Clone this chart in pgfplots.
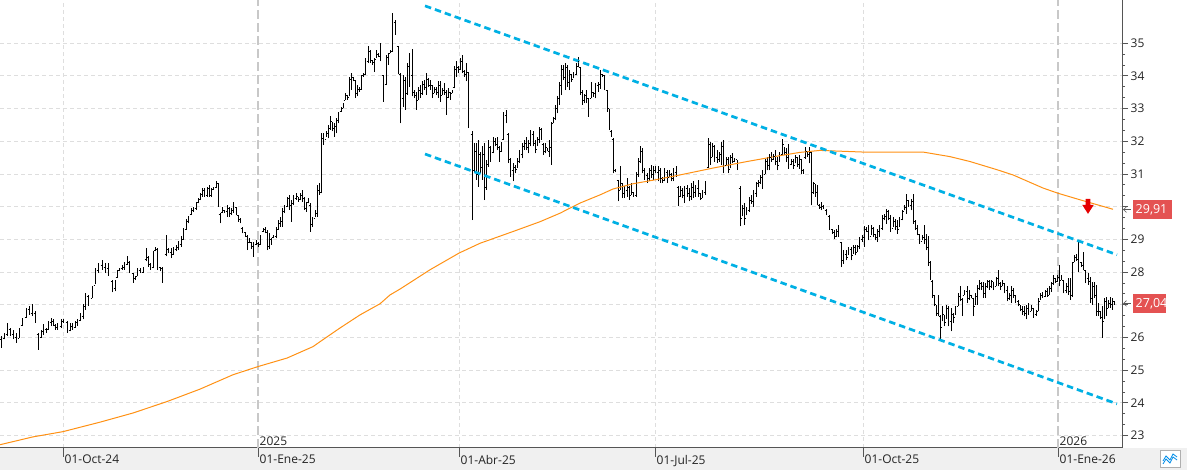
\documentclass[border=0pt]{standalone}
\usepackage{fontspec}
\setmainfont{Open Sans}
\usepackage{pgfplots}
\usepackage{pgfplotstable}
\pgfplotsset{compat=1.18}
\definecolor{gridc}{RGB}{222,222,222}
\definecolor{jangrid}{RGB}{200,200,200}
\definecolor{cyanl}{RGB}{0,176,228}
\definecolor{maorange}{RGB}{255,145,20}
\definecolor{boxred}{RGB}{228,82,82}
\definecolor{strip}{RGB}{240,240,240}
\definecolor{axisc}{RGB}{85,85,85}
\definecolor{txt}{RGB}{35,35,35}
\pgfdeclareplotmark{ohlcL}{\pgfpathmoveto{\pgfqpoint{-1.3pt}{0pt}}\pgfpathlineto{\pgfqpoint{0pt}{0pt}}\pgfusepathqstroke}
\pgfdeclareplotmark{ohlcR}{\pgfpathmoveto{\pgfqpoint{0pt}{0pt}}\pgfpathlineto{\pgfqpoint{1.3pt}{0pt}}\pgfusepathqstroke}
\pgfdeclareplotmark{redarrow}{%
 \pgfpathmoveto{\pgfqpoint{-2.3pt}{7.5pt}}\pgfpathlineto{\pgfqpoint{2.3pt}{7.5pt}}%
 \pgfpathlineto{\pgfqpoint{2.3pt}{1.5pt}}\pgfpathlineto{\pgfqpoint{5.8pt}{1.5pt}}%
 \pgfpathlineto{\pgfqpoint{0pt}{-7.5pt}}\pgfpathlineto{\pgfqpoint{-5.8pt}{1.5pt}}%
 \pgfpathlineto{\pgfqpoint{-2.3pt}{1.5pt}}\pgfpathclose\pgfusepathqfill}
\pgfplotstableread{
x h l o c
1 26.04 25.68 25.95 25.78
4 26.14 25.94 25.96 26.10
7 26.43 26.04 26.10 26.35
10 26.29 26.04 26.25 26.08
13 26.24 25.94 26.10 26.00
16 26.14 25.84 26.00 25.90
19 26.29 25.99 25.98 26.25
22 26.60 26.35 26.38 26.55
26 26.90 26.60 26.62 26.85
29 26.96 26.70 26.85 26.76
32 27.03 26.65 26.75 26.95
35 26.80 26.45 26.75 26.50
38 26.14 25.63 26.10 25.90
41 26.24 25.99 26.00 26.20
43 26.40 26.09 26.20 26.32
46 26.29 26.14 26.25 26.20
48 26.50 26.24 26.26 26.45
51 26.60 26.35 26.45 26.50
53 26.55 26.35 26.50 26.40
55 26.40 26.24 26.38 26.30
57 26.45 26.24 26.30 26.40
61 26.55 26.29 26.35 26.50
63 26.55 26.45 26.50 26.48
67 26.50 26.14 26.45 26.20
70 26.45 26.19 26.22 26.38
72 26.45 26.24 26.35 26.30
75 26.50 26.29 26.30 26.45
77 26.55 26.35 26.45 26.50
80 26.75 26.50 26.52 26.70
83 27.01 26.55 26.65 26.95
85 27.36 26.85 26.95 27.25
88 27.31 26.96 27.25 27.05
92 27.57 27.21 27.20 27.50
95 28.12 27.62 27.60 28.00
98 28.28 27.97 28.05 28.20
102 28.36 28.07 28.20 28.15
105 28.28 27.97 28.15 28.05
108 28.28 27.89 28.10 27.95
112 27.77 27.38 27.70 27.50
115 27.77 27.41 27.50 27.70
117 28.07 27.82 27.85 28.00
119 28.12 28.02 28.04 28.08
122 28.23 28.07 28.10 28.18
124 28.30 28.07 28.15 28.25
127 28.48 28.23 28.25 28.40
129 28.33 27.97 28.30 28.00
133 27.97 27.67 27.95 27.75
135 27.87 27.77 27.80 27.85
137 28.12 27.87 27.88 28.05
140 28.12 27.97 28.05 28.02
143 28.17 27.97 28.00 28.12
146 28.73 28.33 28.40 28.65
148 28.48 28.17 28.45 28.25
150 28.28 28.07 28.25 28.15
153 28.63 28.12 28.15 28.55
155 28.78 28.63 28.65 28.72
157 28.73 28.07 28.70 28.15
160 28.17 28.02 28.15 28.05
162 28.17 27.67 28.10 27.80
166 29.14 28.48 28.55 28.95
168 28.73 28.58 28.70 28.62
171 28.73 28.43 28.60 28.55
173 28.78 28.53 28.55 28.70
176 28.84 28.63 28.70 28.78
178 28.94 28.68 28.75 28.88
181 29.09 28.78 28.85 29.00
183 29.34 28.99 29.00 29.25
186 29.62 29.30 29.30 29.55
188 29.70 29.49 29.55 29.62
191 29.95 29.74 29.75 29.90
193 30.00 29.85 29.88 29.95
196 30.15 29.90 29.95 30.10
198 30.26 30.10 30.12 30.22
200 30.41 30.20 30.22 30.38
202 30.56 30.31 30.38 30.50
204 30.56 30.31 30.50 30.35
207 30.61 30.31 30.35 30.55
209 30.66 30.31 30.55 30.35
211 30.56 30.31 30.35 30.50
213 30.61 30.51 30.52 30.58
216 30.77 30.56 30.58 30.70
218 30.73 30.00 30.70 30.10
220 29.80 29.49 29.75 29.60
222 30.00 29.80 29.82 29.95
224 29.90 29.80 29.88 29.85
227 30.05 29.69 29.85 29.95
229 30.00 29.69 29.95 29.80
231 29.95 29.74 29.80 29.90
233 30.15 29.80 29.90 30.05
236 30.00 29.74 29.98 29.80
238 29.74 29.54 29.72 29.60
240 29.64 29.49 29.60 29.52
242 29.39 29.18 29.35 29.22
245 29.23 29.08 29.20 29.12
247 29.13 28.67 29.10 28.80
249 29.03 28.88 28.90 28.95
251 28.93 28.72 28.90 28.80
253 28.93 28.47 28.80 28.85
256 28.98 28.83 28.85 28.90
258 28.93 28.78 28.88 28.85
260 29.13 28.83 28.85 29.05
263 29.36 29.22 29.25 29.32
265 29.39 29.18 29.30 29.25
267 29.29 28.67 29.20 28.80
269 29.18 28.72 28.80 29.05
271 29.03 28.83 29.00 28.90
273 29.13 29.03 29.05 29.10
276 29.39 29.03 29.10 29.30
278 29.59 29.29 29.32 29.50
280 29.69 29.39 29.50 29.60
282 29.95 29.39 29.55 29.85
284 30.05 29.80 29.85 29.95
287 30.31 30.00 30.00 30.25
289 30.36 29.90 30.25 30.05
291 30.20 29.54 30.05 30.10
293 30.36 30.05 30.10 30.30
296 30.41 30.20 30.25 30.35
298 30.31 30.15 30.30 30.20
300 30.41 30.20 30.22 30.35
302 30.51 30.15 30.35 30.25
304 30.31 29.90 30.25 29.95
306 30.15 29.85 29.95 30.10
308 30.26 30.10 30.12 30.20
310 30.10 29.23 30.05 29.40
312 29.69 29.39 29.45 29.60
315 29.90 29.69 29.65 29.85
317 30.66 29.69 29.80 30.55
319 30.71 30.36 30.50 30.45
321 32.24 30.41 30.45 32.10
323 32.24 31.89 32.10 32.00
326 32.30 32.14 32.05 32.25
328 32.50 32.09 32.25 32.40
330 32.76 32.35 32.40 32.65
332 32.60 32.30 32.60 32.40
334 32.55 32.14 32.40 32.45
336 32.70 32.24 32.45 32.65
338 32.91 32.55 32.65 32.85
341 33.06 32.91 32.90 33.00
343 33.16 33.01 33.02 33.12
345 33.47 33.27 33.25 33.40
347 33.42 33.27 33.40 33.30
349 33.98 33.37 33.35 33.90
351 34.08 33.57 33.90 33.95
353 33.98 33.83 33.95 33.88
355 33.88 33.32 33.85 33.45
357 33.72 33.37 33.45 33.60
359 33.66 33.52 33.60 33.58
361 34.03 33.57 33.58 33.98
363 34.08 33.98 34.00 34.05
365 34.54 34.03 34.05 34.45
368 34.90 34.39 34.45 34.80
370 34.80 34.39 34.75 34.50
372 34.49 34.34 34.48 34.40
374 34.54 34.13 34.40 34.45
376 34.80 34.54 34.50 34.70
378 34.69 34.59 34.65 34.62
380 35.00 34.44 34.60 34.90
383 34.03 33.21 34.00 33.40
386 34.64 33.72 33.75 34.55
388 34.69 34.34 34.55 34.60
390 34.80 34.69 34.70 34.75
392 35.93 34.73 34.75 35.80
395 35.70 35.25 35.65 35.30
398 34.92 34.05 34.90 34.20
400 34.08 32.55 34.05 33.30
403 34.03 33.06 33.30 33.90
405 33.98 32.96 33.85 33.20
407 34.39 33.42 33.45 34.30
409 34.69 33.67 34.30 34.00
412 34.82 33.37 34.00 33.50
414 33.57 33.32 33.50 33.40
416 33.52 32.96 33.40 33.20
418 33.67 33.27 33.25 33.60
420 33.72 33.32 33.55 33.45
422 33.83 33.42 33.45 33.75
424 33.88 33.57 33.75 33.65
426 34.08 33.42 33.65 33.95
428 33.93 33.67 33.90 33.72
430 33.88 33.57 33.72 33.80
432 33.72 33.32 33.70 33.40
434 33.67 33.47 33.45 33.60
436 33.67 33.42 33.60 33.50
438 33.83 33.32 33.50 33.70
440 33.83 33.21 33.70 33.35
442 33.62 33.42 33.40 33.55
444 33.78 33.42 33.55 33.65
446 33.57 32.81 33.50 33.30
448 33.62 33.32 33.35 33.55
450 33.52 33.27 33.50 33.35
452 33.57 33.47 33.45 33.55
454 34.29 33.62 33.65 34.20
456 34.44 33.98 34.20 34.30
458 34.29 34.08 34.25 34.15
460 34.54 34.18 34.20 34.45
462 34.64 34.08 34.45 34.20
464 34.18 33.98 34.15 34.05
466 34.39 33.83 34.05 34.30
468 34.13 32.40 34.10 32.95
472 32.30 29.59 32.20 30.20
474 31.94 31.02 31.10 31.80
476 31.94 30.82 31.70 31.00
478 32.04 30.61 31.00 31.90
480 31.68 31.02 31.60 31.20
482 31.84 30.82 31.20 31.60
484 31.94 30.20 31.60 30.60
486 31.43 30.51 30.60 31.30
488 32.04 31.22 31.30 31.90
490 31.84 31.38 31.80 31.50
493 32.14 31.63 31.65 32.00
495 32.09 31.84 32.00 31.90
497 32.14 31.73 31.90 32.05
499 31.84 31.38 31.80 31.50
501 31.99 31.68 31.70 31.90
503 32.91 32.04 32.05 32.80
506 32.96 32.55 32.80 32.60
508 32.24 31.33 32.20 31.50
510 31.48 30.92 31.45 31.10
513 31.33 30.77 31.10 31.25
515 31.28 31.02 31.20 31.10
517 31.48 31.17 31.15 31.40
519 31.73 31.33 31.40 31.65
522 31.94 31.48 31.60 31.85
524 32.04 31.73 31.85 31.95
526 32.14 31.73 31.95 31.80
528 32.04 31.63 31.80 31.95
530 32.35 31.84 31.95 32.25
533 32.30 31.84 32.20 31.95
535 32.04 31.63 31.95 31.70
537 32.14 31.84 31.75 32.05
539 32.45 31.94 32.05 32.35
541 32.40 32.04 32.35 32.10
543 31.94 31.58 31.90 31.70
545 31.94 31.63 31.70 31.85
547 31.80 31.70 31.80 31.72
549 32.04 31.53 31.70 31.90
551 32.60 31.28 31.80 32.55
553 32.75 32.55 32.55 32.70
555 33.11 32.65 32.70 33.00
557 33.37 32.85 33.00 33.30
559 33.82 33.11 33.30 33.70
561 34.33 33.41 33.70 34.20
563 34.33 33.87 34.20 33.95
565 34.38 33.56 33.95 34.30
567 34.33 33.66 34.25 33.80
569 34.17 33.56 33.80 34.05
571 34.07 33.82 34.05 33.90
573 34.12 33.92 33.90 34.05
576 34.38 34.02 34.05 34.30
578 34.58 34.27 34.30 34.45
580 34.27 33.41 34.25 33.55
582 33.56 33.11 33.50 33.25
584 33.46 33.16 33.25 33.40
586 33.56 33.16 33.40 33.30
588 33.31 32.75 33.30 32.95
591 33.82 33.31 33.30 33.70
593 33.51 33.36 33.50 33.45
595 33.77 33.31 33.45 33.70
598 33.82 33.51 33.70 33.75
600 34.17 33.61 33.75 34.05
602 34.07 33.97 34.05 34.00
604 34.02 33.56 34.00 33.65
607 33.56 32.90 33.55 33.10
609 33.00 32.34 33.00 32.45
611 32.34 32.14 32.30 32.20
613 32.09 31.02 32.05 31.10
615 31.15 31.05 31.12 31.08
618 30.82 30.16 30.80 30.40
620 31.23 30.51 30.50 31.10
622 30.72 30.26 30.70 30.40
624 30.62 30.26 30.40 30.50
627 30.87 30.31 30.50 30.75
629 30.62 30.21 30.60 30.30
631 30.72 30.36 30.35 30.65
633 30.46 30.31 30.45 30.35
636 31.07 30.31 30.35 31.00
638 31.48 30.92 31.00 31.40
640 31.84 31.33 31.40 31.75
642 31.78 31.02 31.70 31.10
644 31.17 30.82 31.10 30.95
647 31.02 30.72 30.95 30.85
649 31.17 30.77 30.85 31.10
651 31.28 30.87 31.10 31.00
653 31.23 30.82 31.00 31.15
655 31.23 31.02 31.10 31.05
658 31.23 30.77 31.05 31.15
660 31.17 30.72 31.10 30.85
662 30.92 30.72 30.85 30.80
664 31.17 30.77 30.80 31.10
667 31.12 30.72 31.05 30.85
669 31.12 30.92 30.90 31.05
671 31.02 30.77 31.00 30.85
673 31.17 30.77 30.85 31.10
676 31.23 30.92 31.05 31.15
678 30.62 30.01 30.60 30.30
680 30.62 30.31 30.30 30.50
682 30.57 30.26 30.50 30.35
684 30.62 30.11 30.35 30.55
687 30.67 30.31 30.55 30.40
689 30.57 30.16 30.40 30.30
691 30.72 30.21 30.30 30.60
693 30.77 30.26 30.60 30.45
695 30.67 30.31 30.45 30.55
698 30.82 30.31 30.55 30.40
700 30.41 30.21 30.40 30.25
702 30.51 30.26 30.25 30.45
705 30.77 30.36 30.45 30.70
708 32.09 31.17 31.20 31.95
710 31.99 31.28 31.90 31.45
712 31.94 31.53 31.50 31.85
714 31.89 31.38 31.85 31.50
717 31.73 31.33 31.50 31.45
719 31.68 31.38 31.45 31.60
721 31.99 31.28 31.60 31.85
723 32.04 31.02 31.85 31.20
726 31.53 31.28 31.25 31.45
728 31.53 31.02 31.45 31.15
730 31.58 31.17 31.15 31.50
732 31.63 31.33 31.50 31.40
734 31.48 31.38 31.40 31.45
737 31.43 31.12 31.45 31.20
740 30.62 29.40 30.55 29.60
742 30.06 29.70 29.65 29.95
744 30.10 29.45 29.95 29.60
746 29.99 29.73 29.65 29.90
749 30.30 29.84 29.90 30.20
751 30.35 30.09 30.20 30.15
753 30.50 29.99 30.15 30.40
756 30.76 30.30 30.40 30.70
758 30.81 30.60 30.70 30.75
760 30.96 30.70 30.75 30.90
762 31.11 30.55 30.90 31.00
765 31.47 31.01 31.00 31.40
767 31.52 31.11 31.40 31.25
769 31.62 31.11 31.25 31.50
771 31.67 31.37 31.50 31.45
773 31.62 31.42 31.45 31.55
775 31.72 31.27 31.55 31.40
777 31.52 31.11 31.40 31.25
779 31.67 31.37 31.25 31.60
782 32.08 31.57 31.60 31.95
784 31.83 31.57 31.90 31.65
786 31.78 31.37 31.65 31.50
788 31.93 31.16 31.50 31.30
791 31.47 31.27 31.30 31.40
793 31.47 31.16 31.40 31.25
795 31.57 31.32 31.25 31.50
797 31.52 31.21 31.50 31.30
799 31.57 31.16 31.30 31.45
801 31.47 31.01 31.45 31.10
803 31.16 31.01 31.10 31.05
805 31.83 31.47 31.50 31.75
807 31.67 31.52 31.70 31.60
809 31.83 31.32 31.60 31.75
811 31.67 30.04 31.65 30.20
813 30.76 30.40 30.45 30.70
815 30.70 30.30 30.70 30.45
817 30.65 30.04 30.45 30.10
819 30.09 29.94 30.05 29.98
821 30.14 29.89 29.98 30.05
823 30.04 29.94 30.02 29.98
826 29.94 29.73 29.90 29.78
829 29.73 29.28 29.70 29.35
832 29.33 29.17 29.30 29.22
834 29.28 29.02 29.22 29.10
836 29.33 29.07 29.10 29.25
838 29.43 29.07 29.25 29.15
841 28.92 28.15 28.90 28.35
843 28.66 28.26 28.35 28.55
846 28.66 28.36 28.55 28.45
848 28.77 28.51 28.45 28.70
851 28.77 28.36 28.70 28.50
853 28.82 28.56 28.50 28.75
855 28.82 28.51 28.75 28.60
857 28.82 28.61 28.60 28.78
859 29.07 28.71 28.78 29.00
862 29.12 28.92 29.00 29.05
864 29.40 28.77 29.05 29.30
866 29.38 29.22 29.30 29.25
868 29.43 28.97 29.25 29.10
871 29.43 29.12 29.10 29.35
873 29.38 29.07 29.35 29.15
875 29.17 28.97 29.15 29.05
877 29.33 28.92 29.05 29.25
879 29.43 29.07 29.25 29.35
882 29.73 29.28 29.35 29.65
884 29.79 29.58 29.65 29.70
886 29.94 29.48 29.70 29.85
888 29.89 29.58 29.85 29.65
890 29.73 29.22 29.65 29.35
893 29.68 29.38 29.35 29.55
895 29.63 29.28 29.55 29.40
897 29.58 29.17 29.40 29.30
899 29.68 29.38 29.30 29.60
902 29.89 29.58 29.60 29.85
904 30.04 29.89 29.85 29.98
906 30.40 29.79 29.98 30.25
908 30.19 29.99 30.20 30.05
911 30.24 29.89 30.05 30.15
913 30.40 29.48 30.15 29.60
915 29.58 29.28 29.55 29.35
917 29.43 29.12 29.35 29.20
919 29.17 28.87 29.15 28.95
922 29.12 28.97 28.95 29.05
924 29.43 28.87 29.05 29.00
926 29.17 28.66 29.00 28.75
928 29.10 28.20 28.75 28.35
930 28.35 27.75 28.30 27.85
932 27.76 27.20 27.70 27.30
934 27.30 26.95 27.30 27.05
936 27.00 26.65 27.00 26.75
938 27.30 26.65 26.75 27.10
940 26.70 25.96 26.65 26.30
942 26.95 26.49 26.30 26.80
944 26.70 26.34 26.70 26.45
946 27.00 26.55 26.45 26.90
948 26.95 26.34 26.90 26.50
951 26.90 26.19 26.50 26.70
953 26.75 26.44 26.70 26.55
955 26.95 26.70 26.60 26.90
958 27.35 26.95 26.95 27.25
960 27.56 27.10 27.25 27.40
962 27.20 26.65 27.15 26.85
964 27.45 27.30 27.30 27.40
967 27.56 27.05 27.40 27.20
969 27.45 27.15 27.20 27.35
971 27.30 27.20 27.28 27.25
973 27.20 26.65 27.20 26.85
975 27.35 27.00 26.95 27.25
977 27.61 27.00 27.25 27.50
979 27.76 27.45 27.50 27.65
981 27.71 27.45 27.65 27.55
983 27.71 27.20 27.55 27.35
985 27.66 27.20 27.35 27.55
987 27.76 27.51 27.55 27.70
989 27.76 27.45 27.70 27.55
991 27.76 27.51 27.55 27.70
993 27.71 27.45 27.70 27.55
996 27.86 27.56 27.55 27.80
998 28.06 27.56 27.80 27.65
1000 27.71 27.45 27.65 27.55
1002 27.76 27.56 27.55 27.70
1004 27.66 27.35 27.65 27.45
1007 27.56 27.10 27.45 27.20
1009 27.35 27.15 27.20 27.30
1011 27.56 27.05 27.30 27.45
1013 27.51 27.20 27.45 27.30
1015 27.30 27.05 27.30 27.10
1018 27.15 26.95 27.10 27.00
1020 27.00 26.80 27.00 26.85
1022 26.95 26.70 26.85 26.80
1024 26.95 26.65 26.80 26.75
1026 27.00 26.55 26.75 26.90
1028 27.05 26.70 26.90 26.80
1031 27.00 26.80 26.80 26.95
1033 26.90 26.60 26.90 26.70
1036 26.85 26.65 26.70 26.80
1038 27.20 26.80 26.80 27.10
1040 27.35 27.15 27.10 27.30
1042 27.40 27.20 27.30 27.25
1045 27.45 27.25 27.25 27.40
1047 27.51 27.25 27.40 27.30
1049 27.56 27.30 27.30 27.50
1051 27.71 27.40 27.50 27.65
1053 27.91 27.61 27.65 27.80
1055 27.81 27.66 27.80 27.70
1057 27.91 27.71 27.70 27.85
1059 28.21 27.56 27.85 27.70
1061 27.91 27.76 27.75 27.85
1063 27.76 27.35 27.75 27.45
1066 27.66 27.35 27.45 27.55
1068 27.81 27.30 27.55 27.40
1070 27.81 27.15 27.40 27.25
1072 28.31 27.25 27.30 28.20
1074 28.52 28.31 28.30 28.45
1076 28.55 28.35 28.45 28.40
1078 28.92 28.01 28.40 28.80
1081 28.31 28.16 28.30 28.20
1083 28.62 28.06 28.20 28.55
1085 28.06 27.66 28.05 27.80
1088 27.96 27.61 27.80 27.70
1090 27.86 27.05 27.70 27.20
1092 27.71 27.00 27.20 27.55
1094 27.71 27.20 27.55 27.30
1096 27.61 26.65 27.30 26.80
1098 27.05 26.65 26.80 26.90
1100 26.80 26.55 26.80 26.60
1102 26.95 25.99 26.60 26.50
1104 27.20 26.55 26.50 27.10
1106 27.25 26.65 27.10 26.85
1108 27.15 26.90 26.90 27.05
1110 27.25 26.90 27.05 27.00
1112 27.20 26.85 27.00 27.10
1114 27.10 27.00 27.10 27.04
}\ohlc
\pgfplotstableread{
x ma
0 22.72
33 22.96
63 23.12
100 23.41
133 23.69
167 24.04
200 24.42
233 24.86
258 25.11
287 25.37
313 25.72
320 25.87
340 26.29
360 26.69
380 27.03
390 27.30
400 27.48
430 28.07
459 28.58
480 28.88
513 29.24
540 29.54
560 29.80
580 30.11
600 30.36
613 30.54
633 30.70
655 30.82
680 30.97
713 31.18
747 31.38
780 31.56
800 31.66
820 31.72
863 31.67
923 31.67
950 31.53
970 31.38
997 31.13
1013 30.97
1043 30.57
1058 30.41
1080 30.21
1113 29.92
}\matab
\begin{document}
\begin{tikzpicture}[x=1pt,y=1pt]
\useasboundingbox (0,-22) rectangle (1187,448);
\fill[strip] (0,-22) rectangle (1187,0);
\begin{axis}[
  at={(0,0)}, anchor=south west,
  scale only axis, width=1122pt, height=448pt,
  xmin=0, xmax=1122, ymin=22.62, ymax=36.32,
  axis x line*=bottom, axis y line*=right,
  axis line style={draw=axisc, line width=1pt},
  tick align=outside,
  major tick length=6pt, minor tick length=3pt,
  tick style={draw=axisc, line width=0.8pt},
  xtick={63,459,655,863},
  xticklabels={01-Oct-24,01-Abr-25,01-Jul-25,01-Oct-25},
  extra x ticks={258,1058},
  extra x tick labels={01-Ene-25,01-Ene-26},
  extra x tick style={grid style={draw=jangrid, dash pattern=on 9pt off 4pt, line width=1.2pt}},
  xtick style={/pgfplots/major tick length=9pt},
  xticklabel style={anchor=north west, inner sep=0pt, xshift=1.5pt, yshift=-1pt},
  ytick={23,24,...,35},
  yticklabels={23,24,25,26,,28,29,,31,32,33,34,35},
  minor y tick num=2,
  yticklabel style={anchor=west, inner sep=0pt, xshift=2.5pt},
  /pgf/number format/assume math mode=true,
  tick label style={font=\fontsize{12}{14}\selectfont, text=txt},
  xmajorgrids, ymajorgrids,
  grid style={draw=gridc, dash pattern=on 4pt off 3pt, line width=0.9pt},
]
\addplot[forget plot, mark=none, draw=none,
  error bars/.cd, y dir=plus, y explicit,
  error bar style={draw=black, line width=0.85pt}, error mark=none]
  table[x=x, y=l, y error plus expr={\thisrow{h}-\thisrow{l}}] {\ohlc};
\addplot[only marks, mark=ohlcL, mark options={draw=black, line width=0.75pt}] table[x=x, y=o] {\ohlc};
\addplot[only marks, mark=ohlcR, mark options={draw=black, line width=0.75pt}] table[x=x, y=c] {\ohlc};
\addplot[maorange, line width=1pt, mark=none] table[x=x, y=ma] {\matab};
\addplot[cyanl, line width=2.7pt, dash pattern=on 6.5pt off 4pt, mark=none] coordinates {(425,36.14) (1117,28.53)};
\addplot[cyanl, line width=2.7pt, dash pattern=on 6.5pt off 4pt, mark=none] coordinates {(425,31.61) (1117,23.97)};
\addplot[only marks, mark=redarrow, mark options={fill=red!90!black, draw=none}] coordinates {(1088,30.01)};
\draw[axisc, line width=1pt] (axis cs:258,22.62) -- ++(0,10pt);
\draw[axisc, line width=1pt] (axis cs:1058,22.62) -- ++(0,10pt);
\node[anchor=south west, inner sep=0pt, font=\fontsize{12}{14}\selectfont, text=txt] at (axis cs:258,22.62) [xshift=1.5pt, yshift=2.5pt] {2025};
\node[anchor=south west, inner sep=0pt, font=\fontsize{12}{14}\selectfont, text=txt] at (axis cs:1058,22.62) [xshift=1.5pt, yshift=2.5pt] {2026};
\coordinate (p1) at (axis cs:1122,29.91);
\coordinate (p2) at (axis cs:1122,27.04);
\end{axis}
\fill[boxred] (p1) ++(11pt,-9.5pt) rectangle ++(39pt,19pt);
\fill[boxred] (p2) ++(11pt,-9.5pt) rectangle ++(33pt,19pt);
\node[anchor=west, inner sep=0pt, text=white, font=\fontsize{12.5}{14}\selectfont] at ([xshift=13.5pt]p1) {29,91};
\node[anchor=west, inner sep=0pt, text=white, font=\fontsize{12.5}{14}\selectfont] at ([xshift=13.5pt]p2) {27,04};
\foreach \p in {p1,p2}{
  \draw[axisc, line width=0.6pt] ([xshift=4.5pt,yshift=2.8pt]\p) -- ([xshift=1.5pt]\p) -- ([xshift=4.5pt,yshift=-2.8pt]\p);
  \draw[axisc, line width=0.6pt] ([xshift=1.5pt]\p) -- ([xshift=9pt]\p);
}
\draw[draw={rgb,255:red,175;green,175;blue,175}, fill=white, line width=0.8pt] (1160,-19) rectangle (1180,-2);
\draw[cyanl!80!blue, line width=0.8pt] (1163,-13) -- (1166,-8) -- (1170,-12) -- (1173,-6) -- (1177,-9);
\draw[cyanl!80!blue, line width=0.8pt] (1163,-16) -- (1166,-11) -- (1170,-15) -- (1173,-9) -- (1177,-12);
\end{tikzpicture}
\end{document}
